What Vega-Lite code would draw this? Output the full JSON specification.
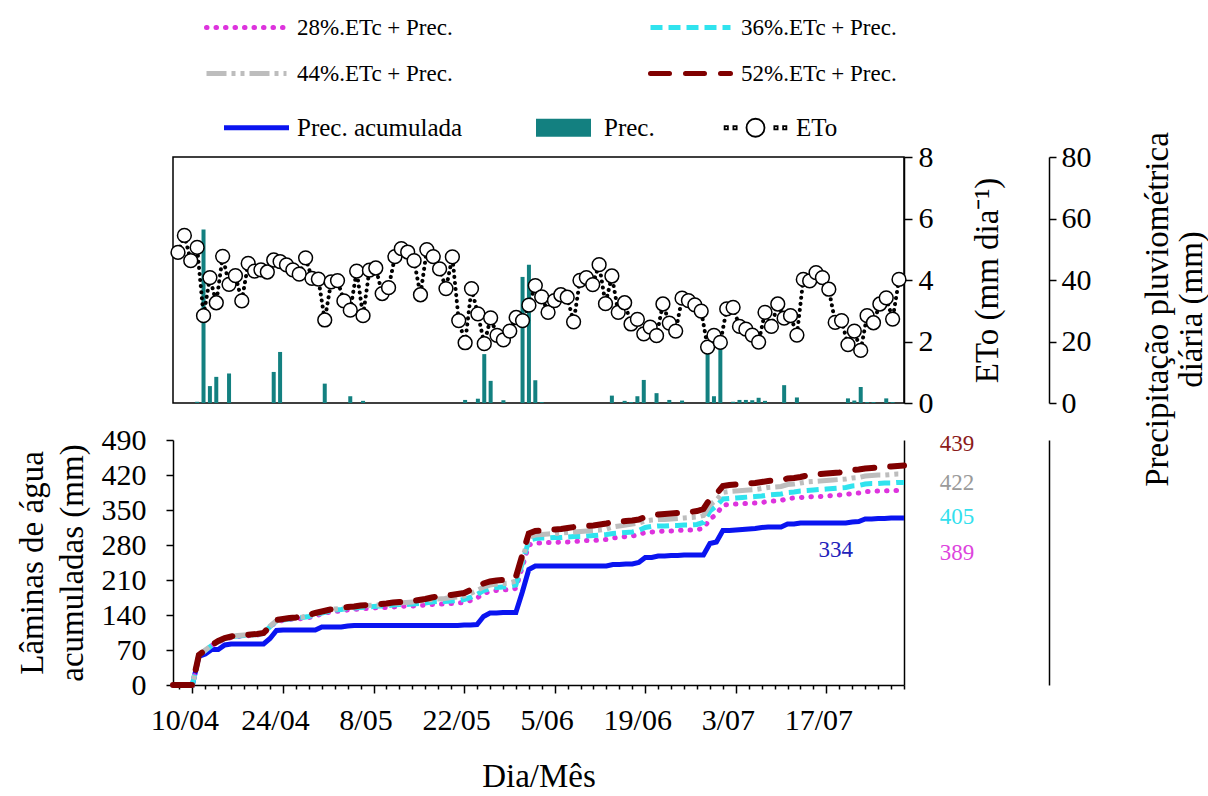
{
  "$schema": "https://vega.github.io/schema/vega-lite/v6.json",
  "background": "white",
  "padding": {"left": 16, "top": 15, "right": 0, "bottom": 0},
  "config": {
    "font": "Liberation Serif",
    "view": {"stroke": null},
    "axis": {"domainColor": "black", "tickColor": "black", "labelColor": "black", "titleColor": "black", "titleFontWeight": "normal", "grid": false, "labelFont": "Liberation Serif", "titleFont": "Liberation Serif", "domainWidth": 1.5, "tickWidth": 1.5},
    "legend": {"labelFont": "Liberation Serif", "labelColor": "black", "labelLimit": 0, "labelFontSize": 23}
  },
  "datasets": {
    "diario": [
      {"date": "2019-04-07", "eto": 4.90, "acum": 0, "t28": 0, "t36": 0, "t44": 0, "t52": 0},
      {"date": "2019-04-08", "eto": 5.45, "acum": 0, "t28": 0, "t36": 0, "t44": 0, "t52": 0},
      {"date": "2019-04-09", "eto": 4.63, "acum": 0, "t28": 0, "t36": 0, "t44": 0, "t52": 0},
      {"date": "2019-04-10", "eto": 5.06, "prec": 0.4, "acum": 0, "t28": 0, "t36": 0, "t44": 0, "t52": 0},
      {"date": "2019-04-11", "eto": 2.84, "prec": 56.4, "acum": 57, "t28": 59, "t36": 60, "t44": 60, "t52": 60},
      {"date": "2019-04-12", "eto": 4.08, "prec": 5.5, "acum": 62, "t28": 69, "t36": 69, "t44": 70, "t52": 70},
      {"date": "2019-04-13", "eto": 3.26, "prec": 8.5, "acum": 71, "t28": 79, "t36": 79, "t44": 80, "t52": 80},
      {"date": "2019-04-14", "eto": 4.77, "acum": 71, "t28": 86, "t36": 87, "t44": 88, "t52": 88},
      {"date": "2019-04-15", "eto": 3.86, "prec": 9.6, "acum": 80, "t28": 92, "t36": 93, "t44": 94, "t52": 94},
      {"date": "2019-04-16", "eto": 4.14, "acum": 82, "t28": 95, "t36": 96, "t44": 97, "t52": 97},
      {"date": "2019-04-17", "eto": 3.32, "acum": 82, "t28": 97, "t36": 98, "t44": 99, "t52": 99},
      {"date": "2019-04-18", "eto": 4.54, "acum": 82, "t28": 98, "t36": 99, "t44": 100, "t52": 100},
      {"date": "2019-04-19", "eto": 4.29, "acum": 82, "t28": 99, "t36": 100, "t44": 101, "t52": 101},
      {"date": "2019-04-20", "eto": 4.33, "acum": 82, "t28": 100, "t36": 101, "t44": 102, "t52": 102},
      {"date": "2019-04-21", "eto": 4.26, "acum": 82, "t28": 102, "t36": 103, "t44": 104, "t52": 104},
      {"date": "2019-04-22", "eto": 4.65, "prec": 10.1, "acum": 93, "t28": 116, "t36": 117, "t44": 118, "t52": 118},
      {"date": "2019-04-23", "eto": 4.60, "prec": 16.6, "acum": 109, "t28": 127, "t36": 128, "t44": 129, "t52": 130},
      {"date": "2019-04-24", "eto": 4.49, "acum": 110, "t28": 129, "t36": 130, "t44": 131, "t52": 132},
      {"date": "2019-04-25", "eto": 4.33, "acum": 110, "t28": 131, "t36": 132, "t44": 133, "t52": 134},
      {"date": "2019-04-26", "eto": 4.19, "acum": 110, "t28": 132, "t36": 133, "t44": 134, "t52": 135},
      {"date": "2019-04-27", "eto": 4.72, "acum": 110, "t28": 133, "t36": 135, "t44": 136, "t52": 137},
      {"date": "2019-04-28", "eto": 4.05, "acum": 110, "t28": 135, "t36": 137, "t44": 139, "t52": 140},
      {"date": "2019-04-29", "eto": 4.03, "acum": 110, "t28": 138, "t36": 141, "t44": 143, "t52": 144},
      {"date": "2019-04-30", "eto": 2.70, "prec": 6.3, "acum": 116, "t28": 142, "t36": 144, "t44": 146, "t52": 147},
      {"date": "2019-05-01", "eto": 3.94, "acum": 116, "t28": 145, "t36": 147, "t44": 149, "t52": 150},
      {"date": "2019-05-02", "eto": 3.98, "acum": 116, "t28": 147, "t36": 150, "t44": 152, "t52": 153},
      {"date": "2019-05-03", "eto": 3.32, "acum": 116, "t28": 148, "t36": 151, "t44": 153, "t52": 154},
      {"date": "2019-05-04", "eto": 3.02, "prec": 2.2, "acum": 118, "t28": 150, "t36": 153, "t44": 155, "t52": 156},
      {"date": "2019-05-05", "eto": 4.29, "acum": 119, "t28": 151, "t36": 154, "t44": 156, "t52": 157},
      {"date": "2019-05-06", "eto": 2.84, "prec": 0.7, "acum": 119, "t28": 152, "t36": 155, "t44": 158, "t52": 159},
      {"date": "2019-05-07", "eto": 4.32, "acum": 119, "t28": 153, "t36": 156, "t44": 159, "t52": 160},
      {"date": "2019-05-08", "eto": 4.39, "acum": 119, "t28": 154, "t36": 157, "t44": 160, "t52": 161},
      {"date": "2019-05-09", "eto": 3.56, "acum": 119, "t28": 155, "t36": 158, "t44": 160, "t52": 162},
      {"date": "2019-05-10", "eto": 3.75, "acum": 119, "t28": 155, "t36": 158, "t44": 161, "t52": 163},
      {"date": "2019-05-11", "eto": 4.76, "acum": 119, "t28": 156, "t36": 160, "t44": 163, "t52": 165},
      {"date": "2019-05-12", "eto": 5.02, "acum": 119, "t28": 157, "t36": 161, "t44": 164, "t52": 166},
      {"date": "2019-05-13", "eto": 4.91, "acum": 119, "t28": 158, "t36": 161, "t44": 165, "t52": 167},
      {"date": "2019-05-14", "eto": 4.63, "acum": 119, "t28": 158, "t36": 162, "t44": 166, "t52": 168},
      {"date": "2019-05-15", "eto": 3.52, "acum": 119, "t28": 159, "t36": 163, "t44": 167, "t52": 170},
      {"date": "2019-05-16", "eto": 4.99, "acum": 119, "t28": 160, "t36": 164, "t44": 169, "t52": 172},
      {"date": "2019-05-17", "eto": 4.76, "acum": 119, "t28": 161, "t36": 166, "t44": 171, "t52": 175},
      {"date": "2019-05-18", "eto": 4.36, "acum": 119, "t28": 162, "t36": 167, "t44": 172, "t52": 177},
      {"date": "2019-05-19", "eto": 3.72, "acum": 119, "t28": 162, "t36": 167, "t44": 173, "t52": 178},
      {"date": "2019-05-20", "eto": 4.75, "acum": 119, "t28": 163, "t36": 168, "t44": 175, "t52": 180},
      {"date": "2019-05-21", "eto": 2.68, "acum": 119, "t28": 164, "t36": 169, "t44": 176, "t52": 182},
      {"date": "2019-05-22", "eto": 1.96, "prec": 1.0, "acum": 120, "t28": 165, "t36": 171, "t44": 178, "t52": 184},
      {"date": "2019-05-23", "eto": 3.72, "acum": 120, "t28": 169, "t36": 175, "t44": 183, "t52": 190},
      {"date": "2019-05-24", "eto": 2.90, "prec": 1.4, "acum": 121, "t28": 174, "t36": 181, "t44": 189, "t52": 197},
      {"date": "2019-05-25", "eto": 1.93, "prec": 15.9, "acum": 137, "t28": 183, "t36": 189, "t44": 196, "t52": 203},
      {"date": "2019-05-26", "eto": 2.77, "prec": 7.2, "acum": 144, "t28": 187, "t36": 193, "t44": 200, "t52": 207},
      {"date": "2019-05-27", "eto": 2.20, "acum": 144, "t28": 189, "t36": 195, "t44": 202, "t52": 209},
      {"date": "2019-05-28", "eto": 2.05, "prec": 0.9, "acum": 145, "t28": 190, "t36": 196, "t44": 203, "t52": 210},
      {"date": "2019-05-29", "eto": 2.34, "acum": 145, "t28": 191, "t36": 197, "t44": 204, "t52": 211},
      {"date": "2019-05-30", "eto": 2.78, "acum": 145, "t28": 193, "t36": 200, "t44": 208, "t52": 216},
      {"date": "2019-05-31", "eto": 2.68, "prec": 41, "acum": 186, "t28": 236, "t36": 244, "t44": 252, "t52": 260},
      {"date": "2019-06-01", "eto": 3.18, "prec": 45, "acum": 231, "t28": 280, "t36": 289, "t44": 296, "t52": 303},
      {"date": "2019-06-02", "eto": 3.82, "prec": 7.4, "acum": 238, "t28": 284, "t36": 293, "t44": 300, "t52": 308},
      {"date": "2019-06-03", "eto": 3.45, "prec": 0.3, "acum": 238, "t28": 284, "t36": 294, "t44": 301, "t52": 309},
      {"date": "2019-06-04", "eto": 2.95, "acum": 238, "t28": 285, "t36": 294, "t44": 302, "t52": 310},
      {"date": "2019-06-05", "eto": 3.33, "acum": 238, "t28": 285, "t36": 295, "t44": 303, "t52": 311},
      {"date": "2019-06-06", "eto": 3.52, "acum": 238, "t28": 286, "t36": 295, "t44": 304, "t52": 312},
      {"date": "2019-06-07", "eto": 3.44, "acum": 238, "t28": 286, "t36": 296, "t44": 305, "t52": 314},
      {"date": "2019-06-08", "eto": 2.64, "acum": 238, "t28": 287, "t36": 297, "t44": 306, "t52": 316},
      {"date": "2019-06-09", "eto": 3.99, "acum": 238, "t28": 288, "t36": 297, "t44": 307, "t52": 317},
      {"date": "2019-06-10", "eto": 4.08, "acum": 238, "t28": 289, "t36": 298, "t44": 308, "t52": 318},
      {"date": "2019-06-11", "eto": 3.85, "acum": 238, "t28": 289, "t36": 299, "t44": 309, "t52": 319},
      {"date": "2019-06-12", "eto": 4.50, "acum": 238, "t28": 290, "t36": 300, "t44": 310, "t52": 321},
      {"date": "2019-06-13", "eto": 3.23, "acum": 238, "t28": 291, "t36": 301, "t44": 312, "t52": 323},
      {"date": "2019-06-14", "eto": 4.13, "prec": 2.4, "acum": 241, "t28": 294, "t36": 303, "t44": 316, "t52": 326},
      {"date": "2019-06-15", "eto": 2.95, "acum": 241, "t28": 295, "t36": 304, "t44": 318, "t52": 327},
      {"date": "2019-06-16", "eto": 3.26, "prec": 0.7, "acum": 242, "t28": 297, "t36": 305, "t44": 320, "t52": 328},
      {"date": "2019-06-17", "eto": 2.57, "prec": 0.3, "acum": 242, "t28": 298, "t36": 306, "t44": 322, "t52": 329},
      {"date": "2019-06-18", "eto": 2.72, "prec": 2.2, "acum": 245, "t28": 301, "t36": 309, "t44": 324, "t52": 331},
      {"date": "2019-06-19", "eto": 2.25, "prec": 7.5, "acum": 255, "t28": 305, "t36": 315, "t44": 328, "t52": 336},
      {"date": "2019-06-20", "eto": 2.47, "acum": 255, "t28": 306, "t36": 317, "t44": 330, "t52": 339},
      {"date": "2019-06-21", "eto": 2.19, "prec": 3.2, "acum": 258, "t28": 307, "t36": 318, "t44": 331, "t52": 341},
      {"date": "2019-06-22", "eto": 3.22, "acum": 258, "t28": 308, "t36": 318, "t44": 331, "t52": 342},
      {"date": "2019-06-23", "eto": 2.60, "prec": 1.0, "acum": 259, "t28": 308, "t36": 319, "t44": 332, "t52": 343},
      {"date": "2019-06-24", "eto": 2.34, "acum": 259, "t28": 309, "t36": 319, "t44": 333, "t52": 344},
      {"date": "2019-06-25", "eto": 3.41, "prec": 0.8, "acum": 260, "t28": 310, "t36": 320, "t44": 334, "t52": 345},
      {"date": "2019-06-26", "eto": 3.33, "acum": 260, "t28": 310, "t36": 320, "t44": 335, "t52": 346},
      {"date": "2019-06-27", "eto": 3.19, "acum": 260, "t28": 311, "t36": 321, "t44": 336, "t52": 348},
      {"date": "2019-06-28", "eto": 2.99, "acum": 260, "t28": 313, "t36": 325, "t44": 339, "t52": 352},
      {"date": "2019-06-29", "eto": 1.82, "prec": 19, "acum": 283, "t28": 332, "t36": 348, "t44": 360, "t52": 372},
      {"date": "2019-06-30", "eto": 2.20, "prec": 2.2, "acum": 286, "t28": 341, "t36": 358, "t44": 370, "t52": 382},
      {"date": "2019-07-01", "eto": 1.97, "prec": 20, "acum": 309, "t28": 360, "t36": 372, "t44": 385, "t52": 398},
      {"date": "2019-07-02", "eto": 3.06, "acum": 309, "t28": 361, "t36": 373, "t44": 387, "t52": 400},
      {"date": "2019-07-03", "eto": 3.11, "prec": 0.4, "acum": 310, "t28": 362, "t36": 374, "t44": 388, "t52": 401},
      {"date": "2019-07-04", "eto": 2.49, "prec": 1.0, "acum": 311, "t28": 363, "t36": 375, "t44": 389, "t52": 402},
      {"date": "2019-07-05", "eto": 2.40, "prec": 1.0, "acum": 312, "t28": 363, "t36": 376, "t44": 390, "t52": 403},
      {"date": "2019-07-06", "eto": 2.21, "prec": 0.9, "acum": 313, "t28": 364, "t36": 377, "t44": 391, "t52": 404},
      {"date": "2019-07-07", "eto": 1.98, "prec": 1.7, "acum": 315, "t28": 365, "t36": 378, "t44": 393, "t52": 406},
      {"date": "2019-07-08", "eto": 2.95, "prec": 0.7, "acum": 316, "t28": 367, "t36": 380, "t44": 395, "t52": 408},
      {"date": "2019-07-09", "eto": 2.49, "acum": 316, "t28": 368, "t36": 381, "t44": 396, "t52": 409},
      {"date": "2019-07-10", "eto": 3.22, "acum": 316, "t28": 369, "t36": 382, "t44": 397, "t52": 410},
      {"date": "2019-07-11", "eto": 2.76, "prec": 5.8, "acum": 322, "t28": 373, "t36": 385, "t44": 401, "t52": 413},
      {"date": "2019-07-12", "eto": 2.84, "acum": 322, "t28": 374, "t36": 386, "t44": 402, "t52": 414},
      {"date": "2019-07-13", "eto": 2.21, "prec": 1.8, "acum": 324, "t28": 375, "t36": 388, "t44": 404, "t52": 416},
      {"date": "2019-07-14", "eto": 4.02, "acum": 324, "t28": 376, "t36": 389, "t44": 406, "t52": 419},
      {"date": "2019-07-15", "eto": 3.97, "acum": 324, "t28": 377, "t36": 390, "t44": 407, "t52": 421},
      {"date": "2019-07-16", "eto": 4.24, "acum": 324, "t28": 377, "t36": 391, "t44": 408, "t52": 422},
      {"date": "2019-07-17", "eto": 4.08, "acum": 324, "t28": 378, "t36": 392, "t44": 409, "t52": 423},
      {"date": "2019-07-18", "eto": 3.70, "acum": 324, "t28": 379, "t36": 393, "t44": 410, "t52": 424},
      {"date": "2019-07-19", "eto": 2.62, "acum": 324, "t28": 380, "t36": 394, "t44": 411, "t52": 425},
      {"date": "2019-07-20", "eto": 2.68, "acum": 324, "t28": 381, "t36": 395, "t44": 412, "t52": 427},
      {"date": "2019-07-21", "eto": 1.90, "prec": 1.5, "acum": 326, "t28": 383, "t36": 398, "t44": 414, "t52": 430},
      {"date": "2019-07-22", "eto": 2.34, "prec": 0.8, "acum": 327, "t28": 384, "t36": 399, "t44": 415, "t52": 431},
      {"date": "2019-07-23", "eto": 1.71, "prec": 5.2, "acum": 332, "t28": 387, "t36": 402, "t44": 418, "t52": 433},
      {"date": "2019-07-24", "eto": 2.84, "prec": 0.3, "acum": 332, "t28": 387, "t36": 403, "t44": 419, "t52": 434},
      {"date": "2019-07-25", "eto": 2.61, "prec": 0.3, "acum": 333, "t28": 388, "t36": 403, "t44": 420, "t52": 435},
      {"date": "2019-07-26", "eto": 3.22, "acum": 333, "t28": 388, "t36": 404, "t44": 420, "t52": 436},
      {"date": "2019-07-27", "eto": 3.42, "prec": 1.5, "acum": 334, "t28": 389, "t36": 404, "t44": 421, "t52": 437},
      {"date": "2019-07-28", "eto": 2.73, "prec": 0.3, "acum": 334, "t28": 389, "t36": 405, "t44": 422, "t52": 438},
      {"date": "2019-07-29", "eto": 4.02, "acum": 334, "t28": 389, "t36": 405, "t44": 422, "t52": 439}
    ]
  },
  "data": {"name": "diario"},
  "bounds": "flush",
  "spacing": 37,
  "resolve": {"scale": {"color": "shared", "stroke": "shared"}, "legend": {"color": "shared", "stroke": "shared"}},
  "vconcat": [
    {
      "width": 731,
      "height": 246,
      "view": {"stroke": "black", "strokeWidth": 1.5},
      "layer": [
        {
          "mark": {"type": "bar", "width": 4},
          "encoding": {
            "x": {"field": "date", "type": "temporal", "scale": {"type": "utc", "domain": [{"year": 2019, "month": 4, "date": 7, "utc": true}, {"year": 2019, "month": 7, "date": 29, "utc": true}]}, "axis": null},
            "y": {"field": "prec", "type": "quantitative", "scale": {"domain": [0, 80], "nice": false},
              "axis": {"orient": "right", "offset": 145, "values": [0, 20, 40, 60, 80], "format": "d", "tickCount": 20, "labelOverlap": false, "tickSize": 7, "labelPadding": 5, "labelFontSize": 30, "title": ["Precipitação pluviométrica", "diária (mm)"], "titleFontSize": 33, "titleAngle": 270, "titleBaseline": "top", "titlePadding": 16, "titleLineHeight": 34, "titleY": 152}},
            "color": {"datum": "Prec.", "scale": {"domain": ["Prec. acumulada", "Prec.", "ETo"], "range": ["#0a14f0", "#138080", "black"]},
              "legend": {"orient": "none", "legendX": 51, "legendY": -42, "direction": "horizontal", "title": null, "columnPadding": 68, "symbolSize": 4225, "clipHeight": 25, "symbolOffset": 20, "labelOffset": 28, "labelFontSize": 25,
                "encode": {"symbols": {"update": {
                  "shape": {"signal": "datum.value == 'Prec.' ? 'M-0.846,-0.277H0.846V0.277H-0.846Z' : datum.value == 'ETo' ? 'M-0.277,0A0.277,0.277,0,1,1,0.277,0A0.277,0.277,0,1,1,-0.277,0Z M-0.95,-0.05H-0.85V0.05H-0.95Z M-0.68,-0.05H-0.58V0.05H-0.68Z M0.58,-0.05H0.68V0.05H0.58Z M0.85,-0.05H0.95V0.05H0.85Z' : 'stroke'"},
                  "fill": {"signal": "datum.value == 'Prec.' ? '#138080' : 'white'"},
                  "fillOpacity": {"signal": "datum.value == 'Prec.' ? 1 : 0"},
                  "stroke": {"signal": "datum.value == 'Prec.' ? '#138080' : datum.value == 'ETo' ? 'black' : '#0a14f0'"},
                  "strokeWidth": {"signal": "datum.value == 'Prec.' ? 0 : datum.value == 'ETo' ? 1.8 : 5"},
                  "opacity": {"value": 1}
                }}}}}
          }
        },
        {
          "layer": [
            {
              "mark": {"type": "line", "stroke": "black", "strokeWidth": 4, "strokeDash": [0.1, 6], "strokeCap": "round"},
              "encoding": {
                "x": {"field": "date", "type": "temporal", "axis": null},
                "y": {"field": "eto", "type": "quantitative", "scale": {"domain": [0, 8], "nice": false},
                  "axis": {"orient": "right", "values": [0, 2, 4, 6, 8], "format": "d", "tickCount": 20, "labelOverlap": false, "tickSize": 8, "labelPadding": 6, "labelFontSize": 30, "title": "ETo (mm dia⁻¹)", "titleFontSize": 33, "titleAngle": 270, "titleBaseline": "top", "titlePadding": 38}}
              }
            },
            {
              "mark": {"type": "point", "shape": "circle", "size": 190, "filled": false, "fill": "white", "strokeWidth": 1.5, "opacity": 1},
              "encoding": {
                "x": {"field": "date", "type": "temporal", "axis": null},
                "y": {"field": "eto", "type": "quantitative"},
                "color": {"datum": "ETo"}
              }
            }
          ]
        }
      ],
      "resolve": {"scale": {"y": "independent"}}
    },
    {
      "width": 731,
      "height": 245,
      "layer": [
        {
          "layer": [
            {
              "mark": {"type": "line", "strokeWidth": 5},
              "encoding": {
                "x": {"field": "date", "type": "temporal", "scale": {"type": "utc", "domain": [{"year": 2019, "month": 4, "date": 7, "utc": true}, {"year": 2019, "month": 7, "date": 29, "utc": true}]},
                  "axis": {
                    "values": [
                      {"year": 2019, "month": 4, "date": 8, "utc": true}, {"year": 2019, "month": 4, "date": 10, "utc": true}, {"year": 2019, "month": 4, "date": 12, "utc": true}, {"year": 2019, "month": 4, "date": 14, "utc": true}, {"year": 2019, "month": 4, "date": 16, "utc": true}, {"year": 2019, "month": 4, "date": 18, "utc": true}, {"year": 2019, "month": 4, "date": 20, "utc": true}, {"year": 2019, "month": 4, "date": 22, "utc": true}, {"year": 2019, "month": 4, "date": 24, "utc": true}, {"year": 2019, "month": 4, "date": 26, "utc": true}, {"year": 2019, "month": 4, "date": 28, "utc": true}, {"year": 2019, "month": 4, "date": 30, "utc": true},
                      {"year": 2019, "month": 5, "date": 2, "utc": true}, {"year": 2019, "month": 5, "date": 4, "utc": true}, {"year": 2019, "month": 5, "date": 6, "utc": true}, {"year": 2019, "month": 5, "date": 8, "utc": true}, {"year": 2019, "month": 5, "date": 10, "utc": true}, {"year": 2019, "month": 5, "date": 12, "utc": true}, {"year": 2019, "month": 5, "date": 14, "utc": true}, {"year": 2019, "month": 5, "date": 16, "utc": true}, {"year": 2019, "month": 5, "date": 18, "utc": true}, {"year": 2019, "month": 5, "date": 20, "utc": true}, {"year": 2019, "month": 5, "date": 22, "utc": true}, {"year": 2019, "month": 5, "date": 24, "utc": true}, {"year": 2019, "month": 5, "date": 26, "utc": true}, {"year": 2019, "month": 5, "date": 28, "utc": true}, {"year": 2019, "month": 5, "date": 30, "utc": true},
                      {"year": 2019, "month": 6, "date": 1, "utc": true}, {"year": 2019, "month": 6, "date": 3, "utc": true}, {"year": 2019, "month": 6, "date": 5, "utc": true}, {"year": 2019, "month": 6, "date": 7, "utc": true}, {"year": 2019, "month": 6, "date": 9, "utc": true}, {"year": 2019, "month": 6, "date": 11, "utc": true}, {"year": 2019, "month": 6, "date": 13, "utc": true}, {"year": 2019, "month": 6, "date": 15, "utc": true}, {"year": 2019, "month": 6, "date": 17, "utc": true}, {"year": 2019, "month": 6, "date": 19, "utc": true}, {"year": 2019, "month": 6, "date": 21, "utc": true}, {"year": 2019, "month": 6, "date": 23, "utc": true}, {"year": 2019, "month": 6, "date": 25, "utc": true}, {"year": 2019, "month": 6, "date": 27, "utc": true}, {"year": 2019, "month": 6, "date": 29, "utc": true},
                      {"year": 2019, "month": 7, "date": 1, "utc": true}, {"year": 2019, "month": 7, "date": 3, "utc": true}, {"year": 2019, "month": 7, "date": 5, "utc": true}, {"year": 2019, "month": 7, "date": 7, "utc": true}, {"year": 2019, "month": 7, "date": 9, "utc": true}, {"year": 2019, "month": 7, "date": 11, "utc": true}, {"year": 2019, "month": 7, "date": 13, "utc": true}, {"year": 2019, "month": 7, "date": 15, "utc": true}, {"year": 2019, "month": 7, "date": 17, "utc": true}, {"year": 2019, "month": 7, "date": 19, "utc": true}, {"year": 2019, "month": 7, "date": 21, "utc": true}, {"year": 2019, "month": 7, "date": 23, "utc": true}, {"year": 2019, "month": 7, "date": 25, "utc": true}, {"year": 2019, "month": 7, "date": 27, "utc": true}, {"year": 2019, "month": 7, "date": 29, "utc": true}
                    ],
                    "tickCount": 200,
                    "labelExpr": "(datum.value - 1554854400000) % 1209600000 == 0 ? utcFormat(datum.value, '%-d/%m') : ''",
                    "tickSize": {"condition": {"test": "(datum.value - 1554854400000) % 1209600000 == 0", "value": 8}, "value": 4},
                    "labelPadding": 12, "labelFontSize": 30, "labelOffset": -8, "labelOverlap": false, "labelFlush": false, "labelBound": false,
                    "title": "Dia/Mês", "titleFontSize": 33, "titlePadding": 25
                  }},
                "y": {"field": "acum", "type": "quantitative", "scale": {"domain": [0, 490], "nice": false},
                  "axis": {"values": [0, 70, 140, 210, 280, 350, 420, 490], "tickCount": 20, "labelOverlap": false, "tickSize": 7, "labelPadding": 20, "labelFontSize": 30, "title": ["Lâminas de água", "acumuladas (mm)"], "titleFontSize": 33, "titleLineHeight": 40, "titlePadding": 12}},
                "color": {"datum": "Prec. acumulada"}
              }
            },
            {
              "mark": {"type": "line", "strokeWidth": 5, "strokeDash": [0.5, 9], "strokeCap": "round"},
              "encoding": {
                "x": {"field": "date", "type": "temporal"},
                "y": {"field": "t28", "type": "quantitative"},
                "stroke": {"datum": "28%.ETc + Prec.", "scale": {"domain": ["28%.ETc + Prec.", "36%.ETc + Prec.", "44%.ETc + Prec.", "52%.ETc + Prec."], "range": ["#dd33dd", "#30e3ee", "#bdbdbd", "#800000"]},
                  "legend": {"orient": "none", "legendX": 31, "legendY": -142, "direction": "horizontal", "columns": 2, "columnPadding": 195, "rowPadding": 21, "title": null, "symbolType": "stroke", "symbolSize": 6400, "symbolStrokeWidth": 5, "clipHeight": 25, "labelOffset": 8,
                    "encode": {"symbols": {"update": {
                      "strokeDash": {"signal": "datum.value == '28%.ETc + Prec.' ? [0.5, 9] : datum.value == '36%.ETc + Prec.' ? [12, 6] : datum.value == '44%.ETc + Prec.' ? [20, 5, 4, 5, 4, 5] : [19, 16]"},
                      "strokeCap": {"signal": "datum.value == '36%.ETc + Prec.' || datum.value == '44%.ETc + Prec.' ? 'butt' : 'round'"},
                      "strokeWidth": {"value": 5},
                      "opacity": {"value": 1}
                    }}}}}
              }
            },
            {
              "mark": {"type": "line", "strokeWidth": 5, "strokeDash": [12, 6]},
              "encoding": {
                "x": {"field": "date", "type": "temporal"},
                "y": {"field": "t36", "type": "quantitative"},
                "stroke": {"datum": "36%.ETc + Prec."}
              }
            },
            {
              "mark": {"type": "line", "strokeWidth": 5, "strokeDash": [20, 5, 4, 5, 4, 5]},
              "encoding": {
                "x": {"field": "date", "type": "temporal"},
                "y": {"field": "t44", "type": "quantitative"},
                "stroke": {"datum": "44%.ETc + Prec."}
              }
            },
            {
              "mark": {"type": "line", "strokeWidth": 6, "strokeDash": [19, 16], "strokeCap": "round"},
              "encoding": {
                "x": {"field": "date", "type": "temporal"},
                "y": {"field": "t52", "type": "quantitative"},
                "stroke": {"datum": "52%.ETc + Prec."}
              }
            }
          ]
        },
        {
          "layer": [
            {
              "data": {"values": [{"v": 439}]},
              "mark": {"type": "text", "dx": 53, "dy": -22, "fontSize": 23, "color": "#8b1a1a", "align": "center", "baseline": "middle"},
              "encoding": {
                "x": {"datum": {"year": 2019, "month": 7, "date": 29, "utc": true}, "type": "temporal"},
                "y": {"field": "v", "type": "quantitative", "scale": {"domain": [0, 490], "nice": false}, "axis": {"orient": "right", "ticks": false, "labels": false, "title": null}},
                "text": {"field": "v", "type": "quantitative"}
              }
            },
            {
              "data": {"values": [{"v": 422}]},
              "mark": {"type": "text", "dx": 53, "dy": 9, "fontSize": 23, "color": "#9a9a9a", "align": "center", "baseline": "middle"},
              "encoding": {
                "x": {"datum": {"year": 2019, "month": 7, "date": 29, "utc": true}, "type": "temporal"},
                "y": {"field": "v", "type": "quantitative"},
                "text": {"field": "v", "type": "quantitative"}
              }
            },
            {
              "data": {"values": [{"v": 405}]},
              "mark": {"type": "text", "dx": 53, "dy": 34, "fontSize": 23, "color": "#33dfee", "align": "center", "baseline": "middle"},
              "encoding": {
                "x": {"datum": {"year": 2019, "month": 7, "date": 29, "utc": true}, "type": "temporal"},
                "y": {"field": "v", "type": "quantitative"},
                "text": {"field": "v", "type": "quantitative"}
              }
            },
            {
              "data": {"values": [{"v": 389}]},
              "mark": {"type": "text", "dx": 53, "dy": 62, "fontSize": 23, "color": "#dd44dd", "align": "center", "baseline": "middle"},
              "encoding": {
                "x": {"datum": {"year": 2019, "month": 7, "date": 29, "utc": true}, "type": "temporal"},
                "y": {"field": "v", "type": "quantitative"},
                "text": {"field": "v", "type": "quantitative"}
              }
            }
          ]
        },
        {
          "data": {"values": [{"v": 334}]},
          "mark": {"type": "text", "dx": 3, "dy": 32, "fontSize": 23, "color": "#2222bb", "align": "center", "baseline": "middle"},
          "encoding": {
            "x": {"datum": {"year": 2019, "month": 7, "date": 18, "utc": true}, "type": "temporal"},
            "y": {"field": "v", "type": "quantitative", "scale": {"domain": [0, 490], "nice": false}, "axis": {"orient": "right", "offset": 145, "ticks": false, "labels": false, "title": null}},
            "text": {"field": "v", "type": "quantitative"}
          }
        }
      ],
      "resolve": {"scale": {"y": "independent"}}
    }
  ]
}
